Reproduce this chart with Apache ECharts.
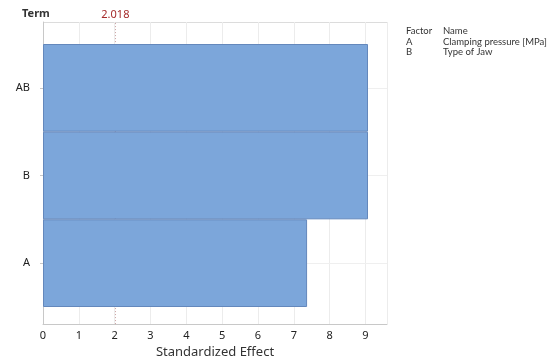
<!DOCTYPE html>
<html>
<head>
<meta charset="utf-8">
<script src="https://cdn.jsdelivr.net/npm/echarts@6/dist/echarts.min.js"></script>
<style>
  html, body { margin: 0; padding: 0; background: #fff; }
  #chart { width: 550px; height: 364px; }
</style>
</head>
<body>
<div id="chart"></div>
<script>
// terms, bottom to top
const terms = ['A', 'B', 'AB']
const effects = [7.37, 9.07, 9.07]
const refValue = 2.018
const factorKeys = ['A', 'B']
const factorNames = ['Clamping pressure [MPa]', 'Type of Jaw']

const FONT = 'Noto Sans'
const TABLE_FONT = '9.5px Lato'
const xMax = 9.6

let chart = echarts.init(document.getElementById('chart'))

// factor table on the right
let tableText = []
const tx1 = 406, tx2 = 443, ty0 = 31, dy = 10.5
const addText = (x, y, s) => {
  tableText.push({ type: 'text', x: x, y: y, style: { text: s, font: TABLE_FONT, fill: '#333', textVerticalAlign: 'middle' } })
}
addText(tx1, ty0, 'Factor')
addText(tx2, ty0, 'Name')
for (let i = 0; i < factorKeys.length; i++) {
  addText(tx1, ty0 + dy * (i + 1), factorKeys[i])
  addText(tx2, ty0 + dy * (i + 1), factorNames[i])
}

let option = {
  animation: false,
  textStyle: { fontFamily: FONT },
  grid: [
    { left: 43, right: 163, top: 22, bottom: 36 },
    { left: 43, right: 163, top: 44, bottom: 57 }
  ],
  xAxis: [
    {
      gridIndex: 0, type: 'value', min: 0, max: xMax, interval: 1,
      name: 'Standardized Effect', nameLocation: 'middle', nameGap: 20,
      nameTextStyle: { fontSize: 13, color: '#333', fontFamily: FONT },
      axisLine: { show: true, lineStyle: { color: '#c8c8c8' } },
      axisTick: { show: false },
      axisLabel: {
        fontSize: 11, color: '#222', margin: 6,
        formatter: v => Number.isInteger(v) ? String(v) : ''
      },
      splitLine: { show: true, lineStyle: { color: '#ececec' } }
    },
    {
      gridIndex: 1, type: 'value', min: 0, max: xMax, interval: 1,
      axisLine: { show: false }, axisTick: { show: false },
      axisLabel: { show: false }, splitLine: { show: false }
    }
  ],
  yAxis: [
    {
      gridIndex: 0, type: 'value', min: 0, max: 1, interval: 1,
      axisLine: { show: true, lineStyle: { color: '#c8c8c8' } },
      axisTick: { show: false }, axisLabel: { show: false },
      splitLine: { show: true, lineStyle: { color: '#dcdcdc' } }
    },
    {
      gridIndex: 1, type: 'category', data: terms,
      axisLine: { show: false },
      axisTick: { show: true, alignWithLabel: true, length: 3, lineStyle: { color: '#c8c8c8' } },
      axisLabel: { fontSize: 11, color: '#222', margin: 13 },
      splitLine: { show: false }
    }
  ],
  graphic: [
    { type: 'text', left: 22, top: 8, style: { text: 'Term', font: 'bold 11px ' + FONT, fill: '#333' } }
  ].concat(tableText),
  series: [
    {
      // reference line, behind the bars
      type: 'line', xAxisIndex: 0, yAxisIndex: 0, data: [], z: 1,
      silent: true,
      markLine: {
        symbol: 'none', silent: true, z: 1,
        lineStyle: { color: '#c9a0a0', type: [1, 2], width: 1 },
        label: {
          show: true, position: 'end', formatter: '2.018',
          color: '#a52a2a', fontSize: 11, fontFamily: FONT, distance: 2
        },
        data: [{ xAxis: refValue }]
      }
    },
    {
      // faint horizontal lines at term centres
      type: 'line', xAxisIndex: 1, yAxisIndex: 1, data: [], z: 1,
      silent: true,
      markLine: {
        symbol: 'none', silent: true, z: 1, label: { show: false },
        lineStyle: { color: '#efefef', type: 'solid', width: 1 },
        data: terms.map(t => ({ yAxis: t }))
      }
    },
    {
      name: 'Effect', type: 'bar', xAxisIndex: 1, yAxisIndex: 1, z: 3,
      data: effects,
      barCategoryGap: 0,
      itemStyle: { color: '#7ca6da', borderColor: '#6488bc', borderWidth: 1 }
    }
  ]
}

chart.setOption(option)
</script>
</body>
</html>
